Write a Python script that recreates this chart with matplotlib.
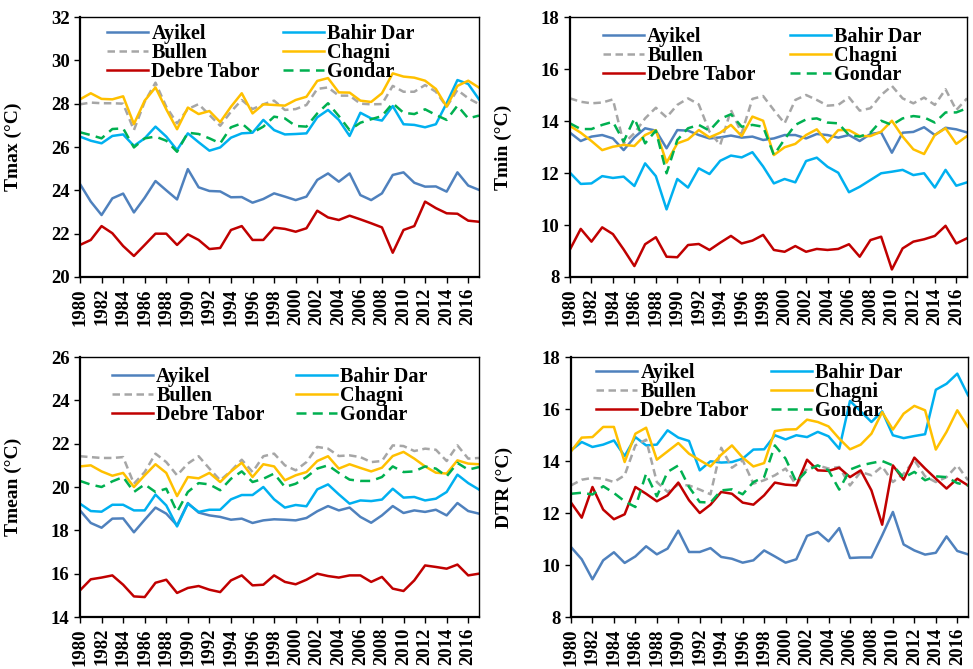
import numpy as np
import matplotlib
matplotlib.use("Agg")
import matplotlib.pyplot as plt

# =====================================================
# 1. Data (annual values)
# =====================================================
years = np.arange(1980, 2018)

stations = ["Ayikel", "Bahir Dar", "Bullen", "Chagni", "Debre Tabor", "Gondar"]

# ---- Tmax (°C)
tmax_ayikel = [24.29, 23.48, 22.86, 23.63, 23.85, 22.98, 23.66, 24.43, 24.0, 23.58, 24.98, 24.14, 23.97,
               23.95, 23.68, 23.69, 23.43, 23.6, 23.86, 23.71, 23.55, 23.71, 24.48, 24.78, 24.4, 24.78,
               23.78, 23.55, 23.86, 24.71, 24.83, 24.35, 24.17, 24.18, 23.94, 24.83, 24.22, 24.02]
tmax_bahirdar = [26.48, 26.29, 26.17, 26.51, 26.58, 26.05, 26.4, 26.94, 26.48, 25.86, 26.63, 26.22, 25.83,
                 25.98, 26.43, 26.63, 26.66, 27.25, 26.78, 26.58, 26.6, 26.63, 27.37, 27.71, 27.25, 26.51,
                 27.58, 27.32, 27.22, 27.89, 27.05, 27.02, 26.91, 27.05, 28.02, 29.09, 28.91, 28.2]
tmax_bullen = [27.97, 28.05, 28.02, 28.02, 28.0, 26.78, 28.09, 28.97, 27.86, 27.09, 27.75, 27.98, 27.48,
               26.98, 27.63, 28.17, 27.75, 27.97, 28.14, 27.71, 27.75, 27.94, 28.68, 28.75, 28.37, 28.37,
               28.0, 27.97, 27.98, 28.82, 28.55, 28.55, 28.86, 28.55, 27.86, 28.63, 28.25, 27.98]
tmax_chagni = [28.2, 28.48, 28.22, 28.2, 28.34, 27.06, 28.14, 28.75, 27.74, 26.82, 27.82, 27.52, 27.66,
               27.15, 27.86, 28.48, 27.55, 27.97, 27.94, 27.91, 28.17, 28.32, 29.05, 29.18, 28.52, 28.51,
               28.14, 28.08, 28.48, 29.4, 29.25, 29.2, 29.06, 28.68, 27.86, 28.82, 29.06, 28.74]
tmax_debretabor = [21.48, 21.71, 22.35, 22.02, 21.43, 20.97, 21.48, 22.0, 22.0, 21.48, 21.97, 21.71, 21.29,
                   21.34, 22.17, 22.35, 21.71, 21.71, 22.28, 22.22, 22.09, 22.25, 23.06, 22.75, 22.63, 22.83,
                   22.66, 22.48, 22.29, 21.12, 22.17, 22.35, 23.48, 23.18, 22.94, 22.92, 22.6, 22.55]
tmax_gondar = [26.68, 26.55, 26.4, 26.83, 26.86, 25.98, 26.4, 26.48, 26.29, 25.78, 26.66, 26.6, 26.4,
               26.17, 26.91, 27.09, 26.66, 26.94, 27.4, 27.32, 26.97, 26.94, 27.55, 28.02, 27.43, 26.78,
               27.12, 27.28, 27.43, 28.02, 27.58, 27.52, 27.74, 27.48, 27.25, 27.91, 27.32, 27.45]

# ---- Tmin (°C)
tmin_ayikel = [13.55, 13.23, 13.4, 13.46, 13.33, 12.88, 13.37, 13.72, 13.63, 12.95, 13.65, 13.63, 13.46,
               13.33, 13.37, 13.44, 13.36, 13.4, 13.27, 13.33, 13.46, 13.46, 13.33, 13.5, 13.46, 13.36,
               13.46, 13.23, 13.5, 13.56, 12.78, 13.55, 13.58, 13.76, 13.46, 13.74, 13.68, 13.56]
tmin_bahirdar = [12.01, 11.58, 11.6, 11.88, 11.81, 11.86, 11.5, 12.37, 11.88, 10.6, 11.77, 11.44, 12.18,
                 11.96, 12.47, 12.67, 12.6, 12.8, 12.25, 11.6, 11.77, 11.64, 12.46, 12.59, 12.24, 12.01,
                 11.26, 11.47, 11.73, 11.99, 12.05, 12.12, 11.92, 11.99, 11.44, 12.12, 11.51, 11.64]
tmin_bullen = [14.87, 14.74, 14.68, 14.71, 14.83, 13.14, 13.53, 14.1, 14.51, 14.14, 14.62, 14.87, 14.64,
               13.59, 13.08, 14.42, 13.53, 14.85, 14.96, 14.42, 13.91, 14.81, 15.0, 14.81, 14.59, 14.62,
               14.91, 14.4, 14.49, 15.0, 15.35, 14.87, 14.68, 14.9, 14.62, 15.22, 14.42, 14.87]
tmin_chagni = [13.81, 13.55, 13.23, 12.88, 13.01, 13.08, 13.04, 13.46, 13.65, 12.4, 13.14, 13.29, 13.65,
               13.37, 13.55, 13.85, 13.42, 14.17, 14.01, 12.69, 12.99, 13.12, 13.46, 13.68, 13.18, 13.65,
               13.65, 13.42, 13.42, 13.59, 14.01, 13.4, 12.91, 12.73, 13.46, 13.72, 13.12, 13.42]
tmin_debretabor = [9.06, 9.85, 9.36, 9.91, 9.65, 9.06, 8.42, 9.26, 9.53, 8.78, 8.76, 9.23, 9.27,
                   9.04, 9.32, 9.58, 9.29, 9.4, 9.62, 9.04, 8.97, 9.19, 8.97, 9.08, 9.04, 9.08,
                   9.26, 8.78, 9.42, 9.55, 8.29, 9.1, 9.36, 9.45, 9.58, 9.97, 9.29, 9.49]
tmin_gondar = [13.91, 13.69, 13.69, 13.85, 13.97, 13.21, 14.1, 13.14, 13.63, 11.99, 13.27, 13.72, 13.85,
               13.63, 14.08, 14.26, 13.78, 13.85, 13.78, 12.69, 13.3, 13.85, 14.06, 14.1, 13.94, 13.91,
               13.46, 13.4, 13.55, 14.01, 13.85, 14.1, 14.19, 14.14, 13.94, 14.33, 14.33, 14.49]

# ---- Tmean (°C)
tmean_ayikel = [18.92, 18.34, 18.12, 18.54, 18.55, 17.91, 18.49, 19.05, 18.77, 18.23, 19.26, 18.82, 18.69,
                18.62, 18.49, 18.54, 18.34, 18.46, 18.51, 18.49, 18.46, 18.57, 18.88, 19.12, 18.92, 19.05,
                18.62, 18.35, 18.69, 19.12, 18.8, 18.92, 18.85, 18.95, 18.69, 19.26, 18.89, 18.77]
tmean_bahirdar = [19.23, 18.89, 18.86, 19.18, 19.18, 18.92, 18.92, 19.65, 19.15, 18.18, 19.23, 18.85, 18.95,
                  18.95, 19.43, 19.63, 19.63, 20.0, 19.43, 19.05, 19.17, 19.11, 19.89, 20.12, 19.66, 19.23,
                  19.38, 19.35, 19.42, 19.92, 19.51, 19.54, 19.38, 19.46, 19.77, 20.57, 20.18, 19.88]
tmean_bullen = [21.42, 21.38, 21.34, 21.34, 21.38, 20.15, 20.69, 21.54, 21.15, 20.54, 21.08, 21.42, 20.85,
                20.31, 20.74, 21.26, 20.69, 21.42, 21.54, 21.0, 20.77, 21.15, 21.85, 21.77, 21.43, 21.46,
                21.38, 21.15, 21.2, 21.92, 21.89, 21.66, 21.77, 21.72, 21.2, 21.92, 21.31, 21.34]
tmean_chagni = [20.95, 21.0, 20.72, 20.52, 20.65, 20.0, 20.54, 21.05, 20.65, 19.58, 20.46, 20.4, 20.65,
                20.23, 20.72, 21.12, 20.46, 21.05, 20.95, 20.31, 20.54, 20.69, 21.2, 21.42, 20.85, 21.05,
                20.88, 20.72, 20.89, 21.43, 21.62, 21.31, 20.95, 20.66, 20.62, 21.23, 21.08, 21.05]
tmean_debretabor = [15.23, 15.74, 15.82, 15.92, 15.49, 14.95, 14.92, 15.58, 15.72, 15.11, 15.34, 15.43, 15.26,
                    15.15, 15.69, 15.92, 15.46, 15.49, 15.92, 15.62, 15.51, 15.72, 16.0, 15.89, 15.82, 15.92,
                    15.92, 15.62, 15.85, 15.31, 15.2, 15.69, 16.38, 16.31, 16.23, 16.42, 15.92, 16.0]
tmean_gondar = [20.28, 20.11, 20.0, 20.26, 20.46, 19.77, 20.12, 19.77, 19.92, 18.85, 19.77, 20.18, 20.12,
                19.85, 20.38, 20.72, 20.23, 20.38, 20.62, 20.0, 20.15, 20.46, 20.85, 21.0, 20.65, 20.34,
                20.28, 20.28, 20.46, 20.95, 20.69, 20.72, 20.95, 20.85, 20.49, 21.11, 20.8, 20.92]

# ---- DTR (°C)
dtr_ayikel = [10.69, 10.22, 9.45, 10.18, 10.49, 10.08, 10.33, 10.72, 10.41, 10.63, 11.32, 10.5, 10.5,
              10.65, 10.31, 10.24, 10.09, 10.18, 10.56, 10.33, 10.09, 10.22, 11.12, 11.27, 10.91, 11.42,
              10.27, 10.29, 10.29, 11.14, 12.04, 10.79, 10.56, 10.4, 10.47, 11.1, 10.54, 10.41]
dtr_bahirdar = [14.41, 14.73, 14.54, 14.63, 14.79, 14.19, 14.92, 14.6, 14.63, 15.18, 14.9, 14.77, 13.64,
                13.99, 13.94, 13.96, 14.09, 14.44, 14.45, 14.99, 14.83, 14.99, 14.92, 15.12, 14.95, 14.47,
                16.31, 15.91, 15.5, 15.91, 14.99, 14.88, 14.96, 15.03, 16.74, 16.97, 17.36, 16.53]
dtr_bullen = [13.06, 13.28, 13.35, 13.32, 13.19, 13.45, 14.6, 14.82, 13.19, 12.81, 13.09, 13.06, 12.9,
              12.72, 14.51, 13.74, 14.03, 13.13, 13.26, 13.45, 13.71, 13.06, 13.71, 13.83, 13.71, 13.77,
              13.06, 13.58, 13.45, 13.79, 13.19, 13.51, 14.03, 13.41, 13.19, 13.38, 13.83, 13.26]
dtr_chagni = [14.37, 14.9, 14.92, 15.31, 15.31, 13.96, 15.05, 15.28, 14.05, 14.37, 14.69, 14.28, 14.03,
              13.79, 14.24, 14.6, 14.13, 13.79, 13.92, 15.15, 15.21, 15.22, 15.59, 15.5, 15.33, 14.86,
              14.45, 14.63, 15.05, 15.88, 15.21, 15.82, 16.12, 15.95, 14.44, 15.12, 15.95, 15.31]
dtr_debretabor = [12.4, 11.82, 13.0, 12.13, 11.76, 11.95, 13.0, 12.74, 12.45, 12.68, 13.17, 12.49, 12.0,
                  12.32, 12.81, 12.74, 12.4, 12.32, 12.68, 13.17, 13.09, 13.06, 14.05, 13.64, 13.62, 13.74,
                  13.38, 13.64, 12.87, 11.55, 13.83, 13.28, 14.13, 13.71, 13.32, 12.94, 13.32, 13.06]
dtr_gondar = [12.74, 12.78, 12.71, 13.03, 12.77, 12.45, 12.23, 13.51, 12.64, 13.58, 13.83, 13.0, 12.42,
              12.4, 12.87, 12.91, 12.72, 13.19, 13.38, 14.6, 14.09, 13.19, 13.64, 13.83, 13.64, 12.9,
              13.67, 13.83, 13.92, 14.0, 13.83, 13.36, 13.58, 13.26, 13.41, 13.38, 13.15, 13.06]

# =====================================================
# 2. Styles
# =====================================================
plt.rcParams["font.family"] = ["Liberation Serif", "DejaVu Serif"]
plt.rcParams["font.weight"] = "bold"

styles = {
    "Ayikel": dict(color="#4F81BD", ls="-"),
    "Bahir Dar": dict(color="#00B0F0", ls="-"),
    "Bullen": dict(color="#A6A6A6", ls=(0, (3, 1.8))),
    "Chagni": dict(color="#FFC000", ls="-"),
    "Debre Tabor": dict(color="#C00000", ls="-"),
    "Gondar": dict(color="#00B050", ls=(0, (4, 2.5))),
}

legend_order = ["Ayikel", "Bullen", "Debre Tabor", "Bahir Dar", "Chagni", "Gondar"]

W, H = 973, 669

# panel: (series, ylabel, ylim, left px, top px, width px, legend anchor, column spacing)
panels = [
    ([tmax_ayikel, tmax_bahirdar, tmax_bullen, tmax_chagni, tmax_debretabor, tmax_gondar],
     "Tmax (°C)", (20, 32), 80, 17, 399, (0.068, 0.973), 1.14),
    ([tmin_ayikel, tmin_bahirdar, tmin_bullen, tmin_chagni, tmin_debretabor, tmin_gondar],
     "Tmin (°C)", (8, 18), 570, 17, 397, (0.083, 0.961), 1.69),
    ([tmean_ayikel, tmean_bahirdar, tmean_bullen, tmean_chagni, tmean_debretabor, tmean_gondar],
     "Tmean (°C)", (14, 26), 80, 357, 399, (0.08, 0.961), 1.54),
    ([dtr_ayikel, dtr_bahirdar, dtr_bullen, dtr_chagni, dtr_debretabor, dtr_gondar],
     "DTR (°C)", (8, 18), 571, 357, 397, (0.063, 0.976), 1.09),
]

# =====================================================
# 3. Plot
# =====================================================
fig = plt.figure(figsize=(W / 100, H / 100), dpi=100)

for series, ylabel, ylim, left, top, width, anchor, colsp in panels:
    ax = fig.add_axes([left / W, 1 - (top + 260) / H, width / W, 260 / H])

    lines = {}
    for name, vals in zip(stations, series):
        st = styles[name]
        (ln,) = ax.plot(years, vals, color=st["color"], linestyle=st["ls"],
                        linewidth=1.8, label=name)
        lines[name] = ln

    ax.set_xlim(1980, 2017)
    ax.set_ylim(*ylim)
    ax.set_xticks(np.arange(1980, 2017, 2))
    ax.set_yticks(np.arange(ylim[0], ylim[1] + 1, 2))
    ax.tick_params(axis="x", labelrotation=90, direction="out", length=4, width=1, labelsize=13.5, pad=4)
    ax.tick_params(axis="y", direction="out", length=4.5, width=1, labelsize=13.5, pad=3)
    for lab in ax.get_xticklabels() + ax.get_yticklabels():
        lab.set_fontweight("bold")

    for side in ["left", "bottom"]:
        ax.spines[side].set_linewidth(1.6)
    for side in ["top", "right"]:
        ax.spines[side].set_linewidth(1.0)

    ax.set_ylabel(ylabel, fontsize=14, fontweight="bold")
    ax.yaxis.set_label_coords(-58 / width, 0.5)

    ax.legend([lines[n] for n in legend_order], legend_order, ncol=2, frameon=False,
              loc="upper left", bbox_to_anchor=anchor, borderaxespad=0, borderpad=0,
              prop={"family": "Liberation Serif", "weight": "bold", "size": 14.5},
              handlelength=2.05, handletextpad=0.15, labelspacing=-0.05, columnspacing=colsp)

plt.savefig("out.png", dpi=100)
